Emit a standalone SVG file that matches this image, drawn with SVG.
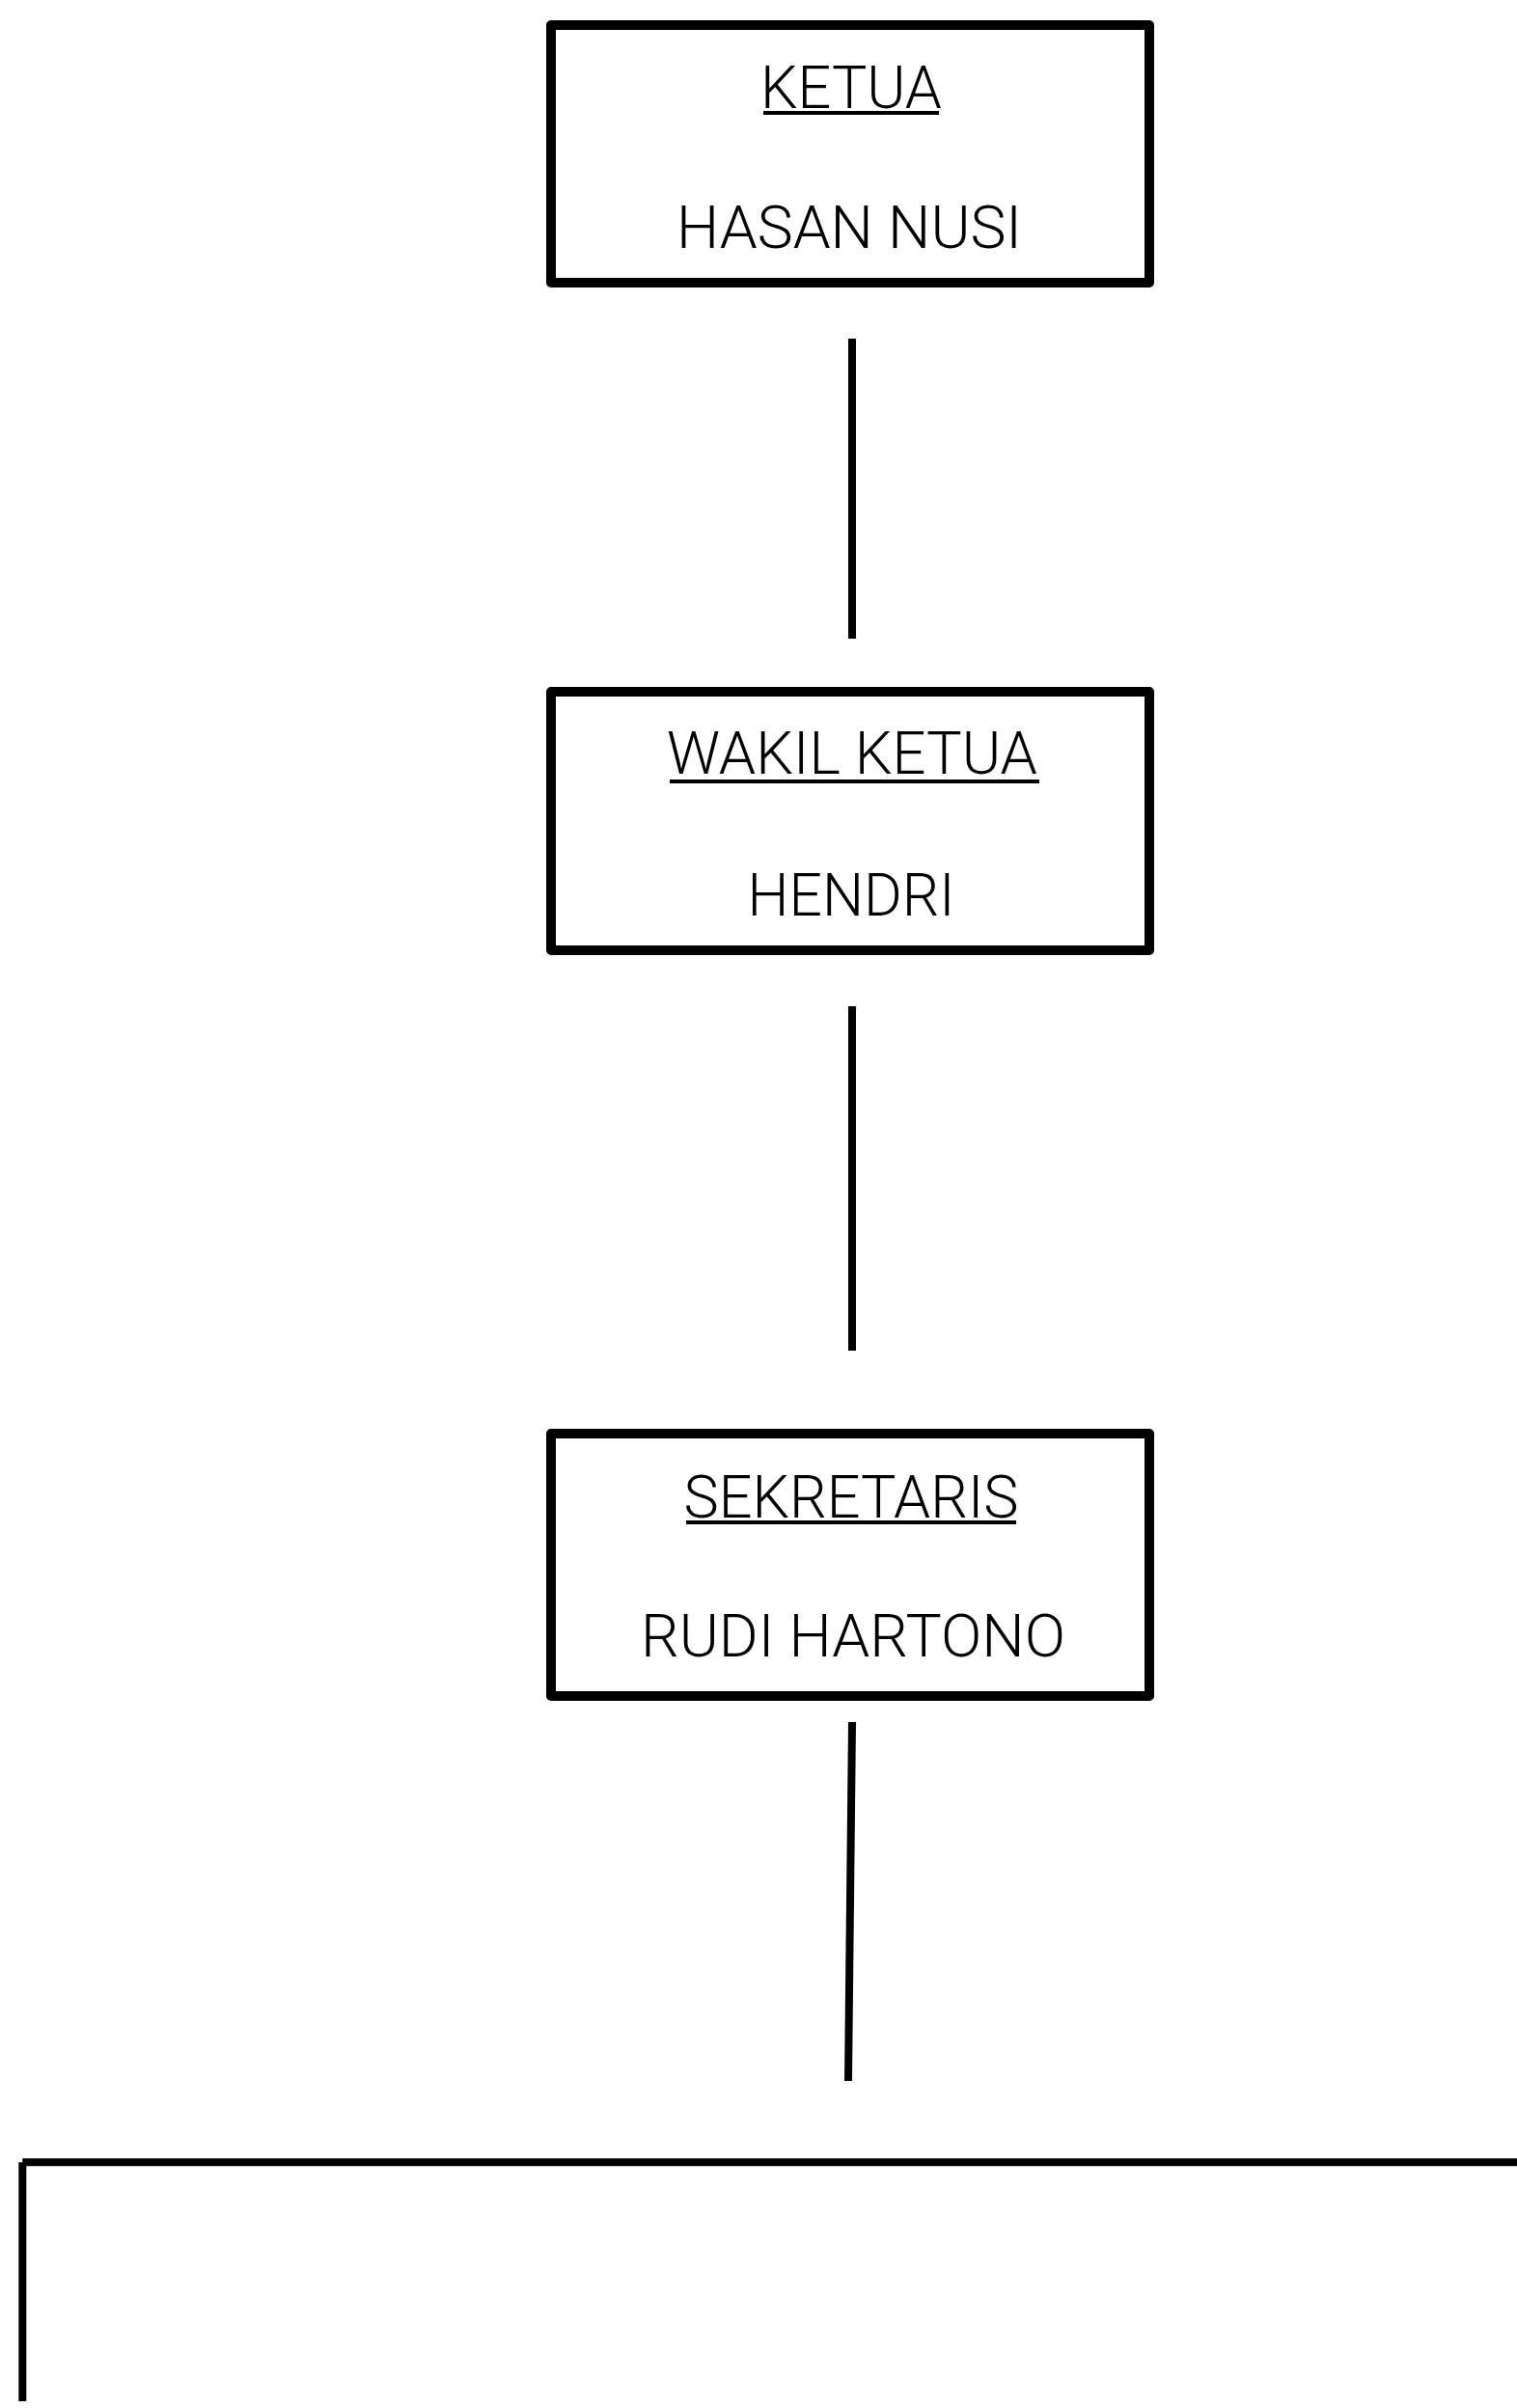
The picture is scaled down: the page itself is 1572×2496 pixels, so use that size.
<svg xmlns="http://www.w3.org/2000/svg" width="1572" height="2496" viewBox="0 0 1572 2496">
<style>
.box{fill:#fff;stroke:#000;stroke-width:10;stroke-linejoin:round}
.t{font-family:Roboto,"Liberation Sans",sans-serif;font-size:62px;font-weight:300;fill:#000;text-anchor:middle}
.ul{stroke:#000;stroke-width:4}
.conn{stroke:#000;stroke-width:8;fill:none}
</style>
<rect width="1572" height="2496" fill="#fff"/>
<g id="connectors">
<line class="conn" x1="883" y1="351" x2="883" y2="662"/>
<line class="conn" x1="883" y1="1043" x2="883" y2="1400"/>
<line class="conn" x1="883" y1="1785" x2="879" y2="2157"/>
<line class="conn" x1="23.3" y1="2241.3" x2="1572" y2="2241.3"/>
<line class="conn" x1="23.3" y1="2241.3" x2="23.3" y2="2489"/>
</g>
<g id="ketua">
<rect class="box" x="571" y="26" width="620" height="267"/>
<text class="t" x="882" y="112" textLength="188" lengthAdjust="spacingAndGlyphs">KETUA</text>
<line class="ul" x1="791" y1="117" x2="973" y2="117"/>
<text class="t" x="880" y="257" textLength="358" lengthAdjust="spacingAndGlyphs">HASAN NUSI</text>
</g>
<g id="wakil-ketua">
<rect class="box" x="571" y="717" width="620" height="268"/>
<text class="t" x="883" y="802" textLength="384" lengthAdjust="spacingAndGlyphs">WAKIL KETUA</text>
<line class="ul" x1="694" y1="810" x2="1077" y2="810"/>
<text class="t" x="882" y="949" textLength="215" lengthAdjust="spacingAndGlyphs">HENDRI</text>
</g>
<g id="sekretaris">
<rect class="box" x="571" y="1486" width="620" height="272"/>
<text class="t" x="882" y="1573" textLength="347" lengthAdjust="spacingAndGlyphs">SEKRETARIS</text>
<line class="ul" x1="711" y1="1578" x2="1053" y2="1578"/>
<text class="t" x="884" y="1717" textLength="440" lengthAdjust="spacingAndGlyphs">RUDI HARTONO</text>
</g>
</svg>
